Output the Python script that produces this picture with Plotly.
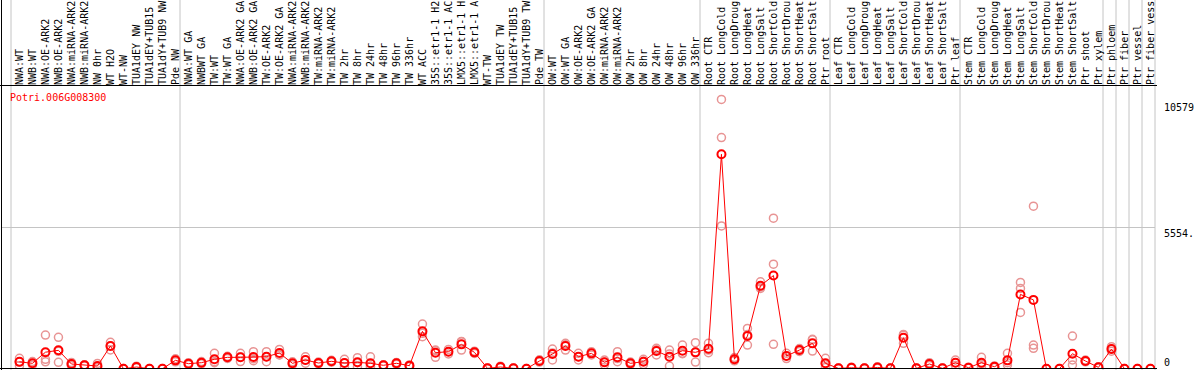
import plotly.graph_objects as go

# ---- data ----
categories = [
    "NWA:WT", "NWB:WT", "NWA:OE-ARK2", "NWB:OE-ARK2", "NWA:miRNA-ARK2", "NWB:miRNA-ARK2",
    "NW 0hr", "WT H2O", "WT-NW", "TUA1dEY NW", "TUA1dEY+TUB15", "TUA1dY+TUB9 NW", "Pde NW",
    "NWA:WT GA", "NWBWT GA", "TW:WT", "TW:WT GA", "NWA:OE-ARK2 GA", "NWB:OE-ARK2 GA",
    "TW:OE-ARK2", "TW:OE-ARK2 GA", "NWA:miRNA-ARK2", "NWB:miRNA-ARK2", "TW:miRNA-ARK2",
    "TW:miRNA-ARK2", "TW 2hr", "TW 8hr", "TW 24hr", "TW 48hr", "TW 96hr", "TW 336hr",
    "WT ACC", "35S::etr1-1 H2", "35S::etr1-1 AC", "LMX5::etr1-1 H", "LMX5::etr1-1 A",
    "WT-TW", "TUA1dEY TW", "TUA1dEY+TUB15", "TUA1dY+TUB9 TW", "Pde TW",
    "OW:WT", "OW:WT GA", "OW:OE-ARK2", "OW:OE-ARK2 GA", "OW:miRNA-ARK2", "OW:miRNA-ARK2",
    "OW 2hr", "OW 8hr", "OW 24hr", "OW 48hr", "OW 96hr", "OW 336hr",
    "Root CTR", "Root LongCold", "Root LongDroug", "Root LongHeat", "Root LongSalt",
    "Root ShortCold", "Root ShortDrou", "Root ShortHeat", "Root ShortSalt", "Ptr root",
    "Leaf CTR", "Leaf LongCold", "Leaf LongDroug", "Leaf LongHeat", "Leaf LongSalt",
    "Leaf ShortCold", "Leaf ShortDrou", "Leaf ShortHeat", "Leaf ShortSalt", "Ptr leaf",
    "Stem CTR", "Stem LongCold", "Stem LongDroug", "Stem LongHeat", "Stem LongSalt",
    "Stem ShortCold", "Stem ShortDrou", "Stem ShortHeat", "Stem ShortSalt", "Ptr shoot",
    "Ptr xylem", "Ptr phloem", "Ptr fiber", "Ptr vessel", "Ptr fiber vess",
]
group_sizes = [13, 28, 12, 10, 10, 11, 1, 1, 1, 1]

mean_values = [
    280, 223, 660, 733, 196, 145, 118, 902, 10, 78, 10, 10, 340,
    209, 248, 380, 458, 458, 470, 484, 627, 223, 353, 235, 301, 235, 262, 223, 145, 223, 131,
    1477, 640, 680, 967, 654, 25, 78, 25, 10, 314,
    588, 902, 484, 614, 262, 458, 223, 287, 705, 484, 718, 654,
    797, 8426, 385, 1294, 3266, 3667, 510, 745, 1006, 223,
    25, 50, 25, 60, 25, 1228, 25, 196, 25, 248,
    50, 248, 90, 340, 2927, 2713, 5, 10, 601, 314, 65,
    784, 10, 10, 10,
]
rep1 = [
    420, 290, 1333, 1242, 260, 170, 220, 1050, 15, 110, 15, 15, 400,
    250, 290, 615, 500, 615, 680, 680, 770, 280, 480, 270, 340, 380, 444, 480, 170, 260, 160,
    1764, 745, 770, 1072, 700, 40, 110, 40, 15, 360,
    784, 1006, 614, 680, 353, 680, 270, 380, 810, 745, 940, 1032,
    1006, 10579, 450, 1594, 3423, 5919, 614, 800, 1163, 420,
    40, 70, 40, 90, 40, 1359, 40, 250, 40, 353,
    70, 458, 120, 614, 3397, 6390, 5, 15, 1294, 350, 90,
    875, 15, 15, 15,
]
rep2 = [
    280, 220, 380, 695, 200, 145, 90, 900, 10, 78, 10, 10, 340,
    209, 248, 280, 460, 470, 405, 485, 560, 220, 350, 235, 300, 235, 250, 110, 145, 223, 131,
    1400, 720, 680, 1084, 654, 25, 78, 25, 10, 314,
    630, 955, 484, 614, 262, 410, 223, 300, 755, 590, 600, 655,
    640, 9083, 380, 1350, 3215, 4116, 510, 745, 1150, 200,
    25, 50, 25, 60, 25, 1320, 25, 196, 25, 250,
    50, 200, 90, 250, 3162, 940, 5, 10, 353, 314, 65,
    784, 10, 10, 10,
]
rep3 = [
    130, 160, 280, 262, 130, 120, 45, 750, 5, 45, 5, 5, 280,
    170, 205, 245, 415, 290, 325, 287, 550, 170, 230, 200, 265, 90, 90, 80, 120, 185, 100,
    1267, 458, 590, 745, 610, 10, 45, 10, 5, 270,
    353, 745, 353, 550, 170, 287, 175, 180, 549, 118, 614, 274,
    745, 5617, 320, 940, 3162, 967, 410, 690, 705, 60,
    10, 30, 10, 30, 10, 1006, 10, 140, 10, 140,
    30, 85, 60, 157, 2221, 810, 5, 5, 157, 280, 40,
    700, 5, 5, 5,
]
gene_id = "Potri.006G008300"
y_max = 11108
y_tick_vals = [10579, 5554, 0]
y_tick_text = ["10579", "5554.", "0"]

# ---- geometry (pixels) ----
W, H = 1194, 370
PL, PR, PT, PB = 11, 1155, 86, 369
pw, ph = PR - PL, PB - PT
n = len(categories)
shift = 0.15
xs = list(range(n))

def px_to_paper_x(px):
    return (px - PL) / pw

def py_to_paper_y(py):
    return (PB - py) / ph

FONT = "DejaVu Sans Mono"
GRAY = "#c4c4c4"
PINK = "#e89494"
RED = "#ff0000"

fig = go.Figure()

# replicate points
rx, ry = [], []
for i in xs:
    for r in (rep1, rep2, rep3):
        rx.append(i)
        ry.append(r[i])
fig.add_trace(go.Scatter(
    x=rx, y=ry, mode="markers",
    marker=dict(symbol="circle-open", size=8, color=PINK, line=dict(width=1.5, color=PINK)),
    hoverinfo="skip", showlegend=False,
))
# mean line
fig.add_trace(go.Scatter(
    x=xs, y=mean_values, mode="lines+markers",
    line=dict(color=RED, width=1),
    marker=dict(symbol="circle-open", size=8, color=RED, line=dict(width=2, color=RED)),
    showlegend=False,
))

shapes = []
# group separators (full height, through header)
b = 0
bounds = [0]
for g in group_sizes:
    b += g
    bounds.append(b)
for k in bounds:
    xp = px_to_paper_x(PL + 13 * k)
    shapes.append(dict(type="line", xref="paper", yref="paper", x0=xp, x1=xp,
                       y0=py_to_paper_y(H + 2), y1=py_to_paper_y(-2),
                       line=dict(color=GRAY, width=1), layer="below"))
# horizontal midline
shapes.append(dict(type="line", xref="paper", yref="y", x0=px_to_paper_x(1), x1=1,
                   y0=y_max / 2, y1=y_max / 2, line=dict(color=GRAY, width=1), layer="below"))
# black left border
shapes.append(dict(type="line", xref="paper", yref="paper",
                   x0=px_to_paper_x(1.5), x1=px_to_paper_x(1.5),
                   y0=py_to_paper_y(H + 2), y1=py_to_paper_y(-2),
                   line=dict(color="black", width=1)))
# header bottom line
shapes.append(dict(type="line", xref="paper", yref="paper",
                   x0=px_to_paper_x(0), x1=px_to_paper_x(1157),
                   y0=py_to_paper_y(85.5), y1=py_to_paper_y(85.5),
                   line=dict(color="black", width=1)))
# bottom line
shapes.append(dict(type="line", xref="paper", yref="paper",
                   x0=px_to_paper_x(0), x1=px_to_paper_x(1157),
                   y0=py_to_paper_y(368.5), y1=py_to_paper_y(368.5),
                   line=dict(color="black", width=1)))

annotations = [
    dict(text=gene_id, xref="paper", yref="paper", x=px_to_paper_x(8), y=py_to_paper_y(97),
         xanchor="left", yanchor="middle", showarrow=False,
         font=dict(family=FONT, size=10, color=RED)),
]
label_py = [107, 233, 362]
for v, t, py in zip(y_tick_vals, y_tick_text, label_py):
    annotations.append(dict(text=t, xref="paper", yref="paper", x=px_to_paper_x(1162),
                            y=py_to_paper_y(py), xanchor="left", yanchor="middle",
                            showarrow=False, font=dict(family=FONT, size=10, color="black")))

fig.update_layout(
    template="none",
    width=W, height=H,
    margin=dict(l=PL, r=W - PR, t=PT, b=H - PB, pad=0),
    paper_bgcolor="white", plot_bgcolor="rgba(0,0,0,0)",
    shapes=shapes, annotations=annotations,
    font=dict(family=FONT, size=10, color="black"),
    xaxis=dict(
        range=[-0.5 - shift, n - 0.5 - shift], side="top", tickangle=-90,
        tickmode="array", tickvals=xs, ticktext=categories,
        showgrid=False, zeroline=False, showline=False, ticks="",
        automargin=False, fixedrange=True,
        tickfont=dict(family=FONT, size=10, color="black"),
    ),
    yaxis=dict(
        range=[0, y_max], showgrid=False, zeroline=False, showline=False,
        showticklabels=False, ticks="", automargin=False, fixedrange=True,
    ),
)

fig.write_html(
    "out.html",
    config={"displayModeBar": False},
    post_script="document.body.style.margin='0';document.body.style.overflow='hidden';",
)
